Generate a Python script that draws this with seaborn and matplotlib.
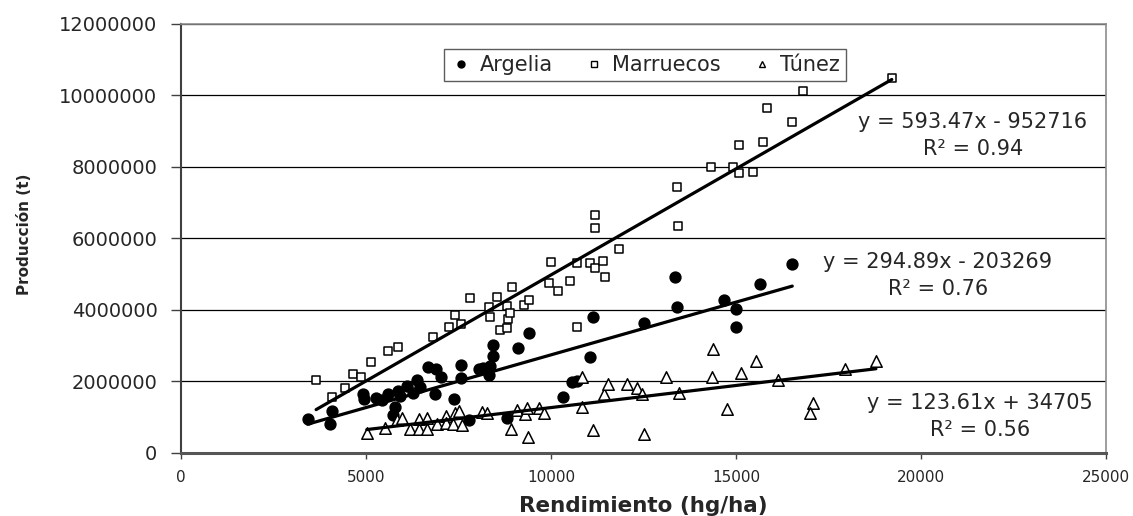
import numpy as np
import matplotlib
matplotlib.use("Agg")
import matplotlib.pyplot as plt
from matplotlib.lines import Line2D
from matplotlib.ticker import FuncFormatter
import seaborn as sns

# Data: yield (hg/ha) vs production (t)
argelia_rend = [3420, 4070, 4030, 4910, 4950, 5270, 5420, 5590, 5780, 5730, 5870, 5920,
                6120, 6280, 6370, 6470, 6680, 6880, 6860, 7020, 7380, 7570, 7570, 7790,
                8040, 8150, 8350, 8310, 8420, 8420, 8800, 9120, 9410, 10320, 10560, 10690,
                11050, 11140, 12520, 13360, 13400, 14680, 15000, 15000, 15650, 16520]
argelia_prod = [960000, 1170000, 810000, 1650000, 1510000, 1530000, 1480000, 1650000,
                1300000, 1060000, 1740000, 1600000, 1880000, 1670000, 2050000, 1860000,
                2400000, 2350000, 1650000, 2130000, 1500000, 2460000, 2090000, 910000,
                2340000, 2370000, 2430000, 2180000, 2710000, 3020000, 970000, 2930000,
                3350000, 1560000, 1990000, 2020000, 2680000, 3810000, 3640000, 4930000,
                4080000, 4280000, 4040000, 3530000, 4720000, 5290000]

marruecos_rend = [3650, 4070, 4430, 4660, 4860, 5130, 5590, 5860, 6820, 7230, 7410, 7560,
                  7800, 8310, 8350, 8530, 8620, 8800, 8820, 8850, 8890, 8940, 9270, 9410,
                  9950, 10000, 10180, 10510, 10690, 10690, 11050, 11190, 11410, 11460,
                  11190, 11190, 11840, 13440, 13400, 14310, 14910, 15090, 15090, 15470,
                  15740, 15830, 16500, 16820, 19210]
marruecos_prod = [2040000, 1570000, 1830000, 2210000, 2130000, 2540000, 2860000, 2960000,
                  3240000, 3530000, 3860000, 3610000, 4330000, 4090000, 3800000, 4360000,
                  3440000, 3510000, 4110000, 3750000, 3910000, 4630000, 4140000, 4280000,
                  4760000, 5350000, 4540000, 4820000, 5320000, 3530000, 5320000, 5180000,
                  5370000, 4930000, 6650000, 6290000, 5710000, 6360000, 7450000, 8010000,
                  7990000, 7820000, 8620000, 7870000, 8690000, 9660000, 9270000, 10130000,
                  10480000]

tunez_rend = [5020, 5510, 5830, 5960, 6190, 6430, 6640, 6430, 6660, 6930, 7150, 7150,
              7360, 7410, 7500, 7590, 8130, 8260, 8910, 9070, 9300, 9360, 9390, 9680,
              9800, 10850, 10850, 11130, 11440, 11540, 12050, 12320, 12450, 12500, 13100,
              13460, 14340, 14390, 14750, 15130, 15540, 16140, 17090, 17000, 17950, 18780]
tunez_prod = [570000, 710000, 930000, 970000, 670000, 660000, 660000, 940000, 970000,
              810000, 1030000, 830000, 810000, 1130000, 1170000, 780000, 1140000, 1130000,
              670000, 1200000, 1080000, 1270000, 460000, 1250000, 1130000, 2120000, 1280000,
              640000, 1640000, 1930000, 1930000, 1830000, 1650000, 530000, 2130000, 1690000,
              2130000, 2900000, 1220000, 2230000, 2570000, 2040000, 1390000, 1110000,
              2340000, 2570000]

# trend line coefficients as printed on the chart
paises = ["Argelia", "Marruecos", "Túnez"]
slopes = [294.89, 593.47, 123.61]
intercepts = [-203269, -952716, 34705]
r2 = [0.76, 0.94, 0.56]
eq_labels = ["y = 294.89x - 203269", "y = 593.47x - 952716", "y = 123.61x + 34705"]

sns.set_style("white")
plt.rcParams["font.family"] = ["DejaVu Sans"]

fig = plt.figure(figsize=(11.33, 5.16), dpi=100)
ax = fig.add_axes([0.1598, 0.1221, 0.8164, 0.8314])

series = [(argelia_rend, argelia_prod), (marruecos_rend, marruecos_prod), (tunez_rend, tunez_prod)]
markers = ["o", "s", "^"]
faces = ["black", "white", "white"]
sizes = [60, 40, 68]

for (xs, ys), m, fc, sz in zip(series, markers, faces, sizes):
    sns.scatterplot(x=xs, y=ys, marker=m, s=sz, color=fc, edgecolor="black",
                    linewidth=1.1, zorder=3, ax=ax)

# trend lines over the range of each series
for (xs, ys), a, b in zip(series, slopes, intercepts):
    xr = np.array([min(xs), max(xs)])
    sns.lineplot(x=xr, y=a * xr + b, color="black", linewidth=2.3, legend=False,
                 zorder=4, ax=ax)

# equations
eq_pos = [(0.818, 0.414), (0.856, 0.740), (0.864, 0.0853)]
for lab, r, (px, py) in zip(eq_labels, r2, eq_pos):
    ax.text(px, py, f"{lab}\nR² = {r:.2f}", transform=ax.transAxes, ha="center",
            va="center", multialignment="center", fontsize=15, linespacing=1.45)

ax.set_xlim(0, 25000)
ax.set_ylim(0, 12000000)
ax.set_xticks(range(0, 25001, 5000))
ax.set_yticks(range(0, 12000001, 2000000))
ax.yaxis.set_major_formatter(FuncFormatter(lambda v, p: f"{int(v)}"))
ax.yaxis.grid(True, color="black", linewidth=0.9)
ax.set_axisbelow(True)

ax.tick_params(axis="y", direction="out", length=7, width=1, color="#404040",
               pad=10, labelsize=14, left=True)
ax.tick_params(axis="x", direction="out", length=4, width=1, color="#404040",
               pad=8, labelsize=11, bottom=True)

for s in ["top", "right"]:
    ax.spines[s].set_color("#8c8c8c")
    ax.spines[s].set_linewidth(1.2)
ax.spines["left"].set_color("#404040")
ax.spines["left"].set_linewidth(1.5)
ax.spines["bottom"].set_color("#555555")
ax.spines["bottom"].set_linewidth(2.2)

ax.set_xlabel("Rendimiento (hg/ha)", fontsize=15.5, fontweight="bold")
ax.xaxis.set_label_coords(0.5, -0.1)
ax.set_ylabel("Producción (t)", fontsize=11, fontweight="bold")
ax.yaxis.set_label_coords(-0.161, 0.51)

handles = [Line2D([], [], linestyle="none", marker=m, markersize=ms, markerfacecolor=fc,
                  markeredgecolor="black", markeredgewidth=1)
           for m, fc, ms in zip(markers, faces, [5, 4.5, 5])]
leg = ax.legend(handles, paises, ncol=3, loc="center", bbox_to_anchor=(0.502, 0.904),
                fontsize=15, frameon=True, fancybox=False, edgecolor="#333333",
                handlelength=1.0, handletextpad=0.4, columnspacing=1.45, borderpad=0.3)
leg.get_frame().set_linewidth(1.0)

fig.savefig("out.png", dpi=100, facecolor="white")
